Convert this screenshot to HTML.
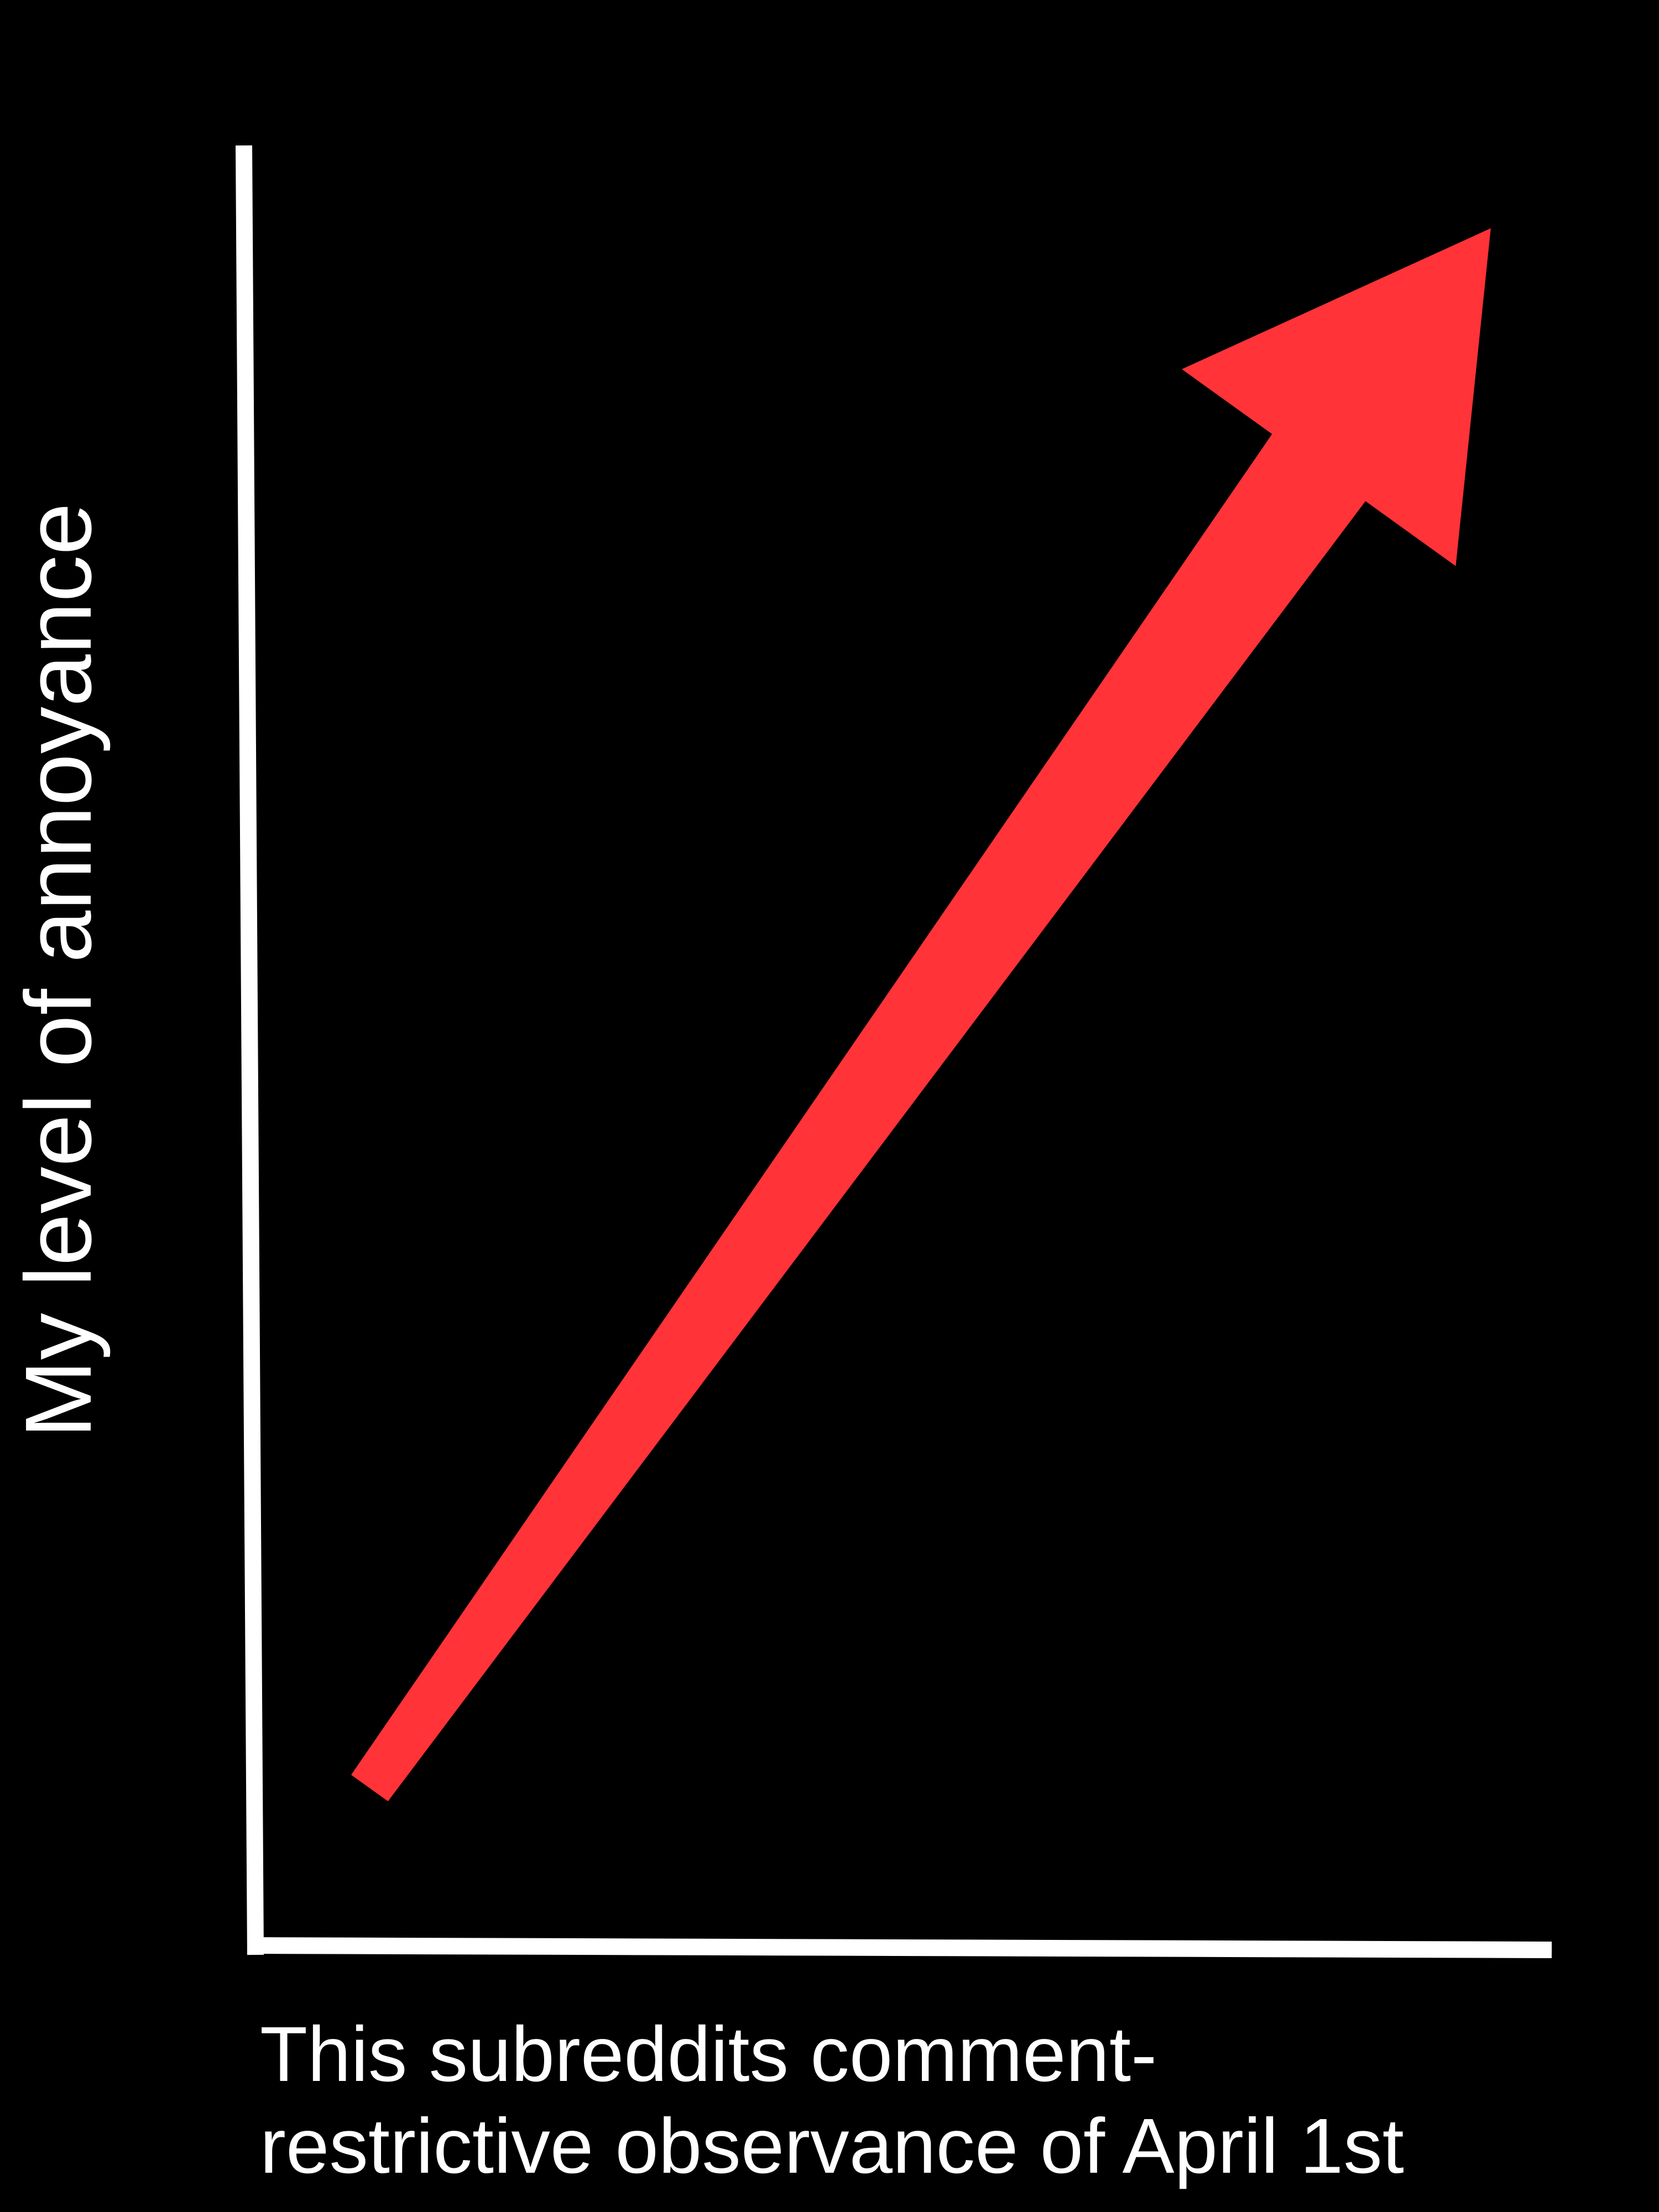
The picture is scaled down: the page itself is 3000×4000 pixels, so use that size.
<!DOCTYPE html>
<html>
<head>
<meta charset="utf-8">
<style>
  html,body{margin:0;padding:0;background:#000;}
  body{width:3000px;height:4000px;overflow:hidden;}
  svg{display:block;}
  text{font-family:"Liberation Sans","DejaVu Sans",sans-serif;fill:#fff;}
</style>
</head>
<body>
<svg id="chart" width="3000" height="4000" viewBox="0 0 3000 4000" xmlns="http://www.w3.org/2000/svg">
  <rect x="0" y="0" width="3000" height="4000" fill="#000"/>
  <line x1="441" y1="263" x2="462" y2="3535" stroke="#fff" stroke-width="30"/>
  <line x1="447" y1="3518" x2="2806" y2="3526" stroke="#fff" stroke-width="30"/>
  <text transform="translate(164,1755) rotate(-90)" text-anchor="middle" font-size="170">My level of annoyance</text>
  <text font-size="141">
    <tspan x="470" y="3763">This subreddits comment-</tspan>
    <tspan x="470" y="3929">restrictive observance of April 1st</tspan>
  </text>
  <polygon id="trend-arrow" fill="#ff3338" points=""/>
</svg>
<script>
// data (axis units 0..1)
const arrowStartX = [0.088];
const arrowStartY = [0.088];
const arrowEndX = [0.953];
const arrowEndY = [0.954];

function xScale(v){ return 462 + v * (2806 - 462); }
function yScale(v){ return 3520 - v * (3520 - 263); }

(function(){
  const sx = xScale(arrowStartX[0]), sy = yScale(arrowStartY[0]);
  const ex = xScale(arrowEndX[0]), ey = yScale(arrowEndY[0]);
  const dx = ex - sx, dy = ey - sy, L = Math.hypot(dx, dy);
  const ux = dx / L, uy = dy / L, nx = -uy, ny = ux;
  const tailHalf = 41, neckHalf = 104, headLen = 533, headHalf = 305;
  const bx = ex - ux * headLen, by = ey - uy * headLen;
  const pts = [
    [sx + nx*tailHalf, sy + ny*tailHalf],
    [bx + nx*neckHalf, by + ny*neckHalf],
    [bx + nx*headHalf, by + ny*headHalf],
    [ex, ey],
    [bx - nx*headHalf, by - ny*headHalf],
    [bx - nx*neckHalf, by - ny*neckHalf],
    [sx - nx*tailHalf, sy - ny*tailHalf]
  ];
  const el = document.getElementById('trend-arrow');
  el.setAttribute('points', pts.map(p => p[0].toFixed(1) + ',' + p[1].toFixed(1)).join(' '));
})();
</script>
</body>
</html>
